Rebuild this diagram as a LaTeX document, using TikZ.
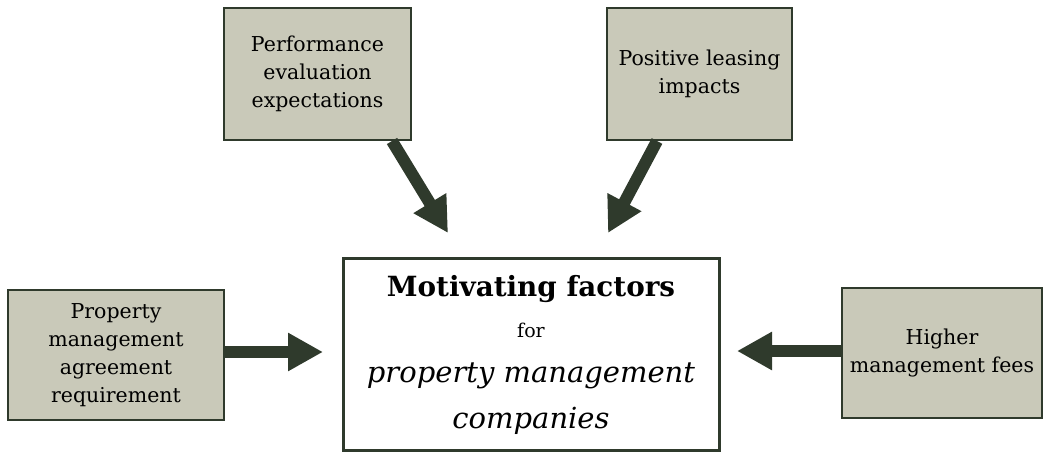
\documentclass[tikz,border=0pt]{standalone}
\usepackage{fontspec}
\setmainfont{DejaVu Serif}
\usetikzlibrary{arrows.meta,calc}
\definecolor{boxgray}{HTML}{C9C9B9}
\definecolor{darkgreen}{HTML}{2F3A2C}
\begin{document}
\begin{tikzpicture}[x=1pt,y=-1pt,
  factor/.style={draw=darkgreen, line width=2pt, fill=boxgray, align=center,
    font=\fontsize{20.5}{28}\selectfont, inner sep=0pt},
  mainbox/.style={draw=darkgreen, line width=3pt, fill=white, align=center,
    inner sep=0pt},
  bigarrow/.style={darkgreen, line width=12pt,
    -{Triangle[width=36pt,length=35pt]}}]
\useasboundingbox (0,0) rectangle (1046,452);
% factor boxes
\node[factor, minimum width=187pt, minimum height=132pt] (perf) at (317.5,74)
  {Performance\\evaluation\\expectations};
\node[factor, minimum width=185pt, minimum height=132pt] (lease) at (699.5,74)
  {Positive leasing\\impacts};
\node[factor, minimum width=216pt, minimum height=130pt] (agree) at (116,355)
  {Property\\management\\agreement\\requirement};
\node[factor, minimum width=200pt, minimum height=130pt] (fees) at (942,353)
  {Higher\\management fees};
% centre box
\node[mainbox, minimum width=376pt, minimum height=192pt] (motiv) at (531,354) {};
\node[font=\fontsize{27.8}{36}\selectfont\bfseries] (title) at (531,289) {Motivating factors};
\node[font=\fontsize{19}{24}\selectfont] (for) at (531,330) {for};
\node[font=\fontsize{29}{46}\selectfont\itshape, align=center] (comp) at (531,399)
  {property management\\companies};
% arrow ends
\coordinate (t1) at (448,233);
\coordinate (t2) at (608,233);
\coordinate (t3) at (323,352);
\coordinate (t4) at (737,351);
\draw[bigarrow] ([xshift=74.5pt]perf.south) -- (t1);
\draw[bigarrow] ([xshift=-42.5pt]lease.south) -- (t2);
\draw[bigarrow] (agree.east |- t3) -- (t3);
\draw[bigarrow] (fees.west |- t4) -- (t4);
\end{tikzpicture}
\end{document}
